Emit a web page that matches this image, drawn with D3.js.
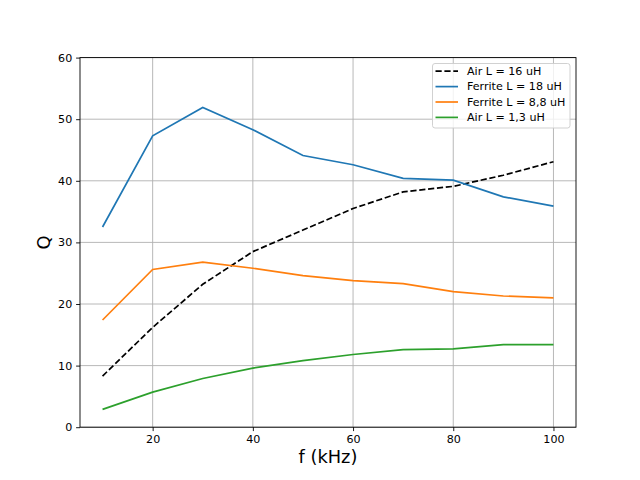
<!DOCTYPE html>
<html>
<head>
<meta charset="utf-8">
<script src="https://cdn.jsdelivr.net/npm/d3@7"></script>
<style>
  body { margin: 0; background: #fff; }
  text { font-family: "DejaVu Sans", sans-serif; }
</style>
</head>
<body>
<svg id="chart" width="640" height="480"></svg>
<script>
// frequencies in kHz
const freqs = [10, 20, 30, 40, 50, 60, 70, 80, 90, 100];

// Q values
const airL16 = [8.3, 16.2, 23.2, 28.5, 32.0, 35.5, 38.2, 39.1, 40.9, 43.1];
const ferriteL18 = [32.5, 47.3, 51.9, 48.3, 44.1, 42.6, 40.4, 40.1, 37.4, 35.9];
const ferriteL88 = [17.4, 25.6, 26.8, 25.8, 24.6, 23.8, 23.3, 22.0, 21.3, 21.0];
const airL13 = [2.9, 5.7, 7.9, 9.6, 10.8, 11.8, 12.6, 12.7, 13.4, 13.4];

const seriesNames = ["Air L = 16 uH", "Ferrite L = 18 uH", "Ferrite L = 8,8 uH", "Air L = 1,3 uH"];
const seriesValues = [airL16, ferriteL18, ferriteL88, airL13];
const seriesColors = ["#000000", "#1f77b4", "#ff7f0e", "#2ca02c"];
const xTicks = [20, 40, 60, 80, 100];
const yTicks = [0, 10, 20, 30, 40, 50, 60];

const svg = d3.select("#chart");
const plotL = 80, plotR = 576, plotT = 57.6, plotB = 427.2;

// matplotlib-style 5% margins on x
const x = d3.scaleLinear().domain([5.5, 104.5]).range([plotL, plotR]);
const y = d3.scaleLinear().domain([0, 60]).range([plotB, plotT]);

// grid
const grid = svg.append("g");
grid.selectAll(".gx").data(xTicks).enter().append("line")
    .attr("x1", d => x(d)).attr("x2", d => x(d))
    .attr("y1", plotT).attr("y2", plotB)
    .attr("stroke", "#b0b0b0").attr("stroke-width", 0.9);
grid.selectAll(".gy").data(yTicks).enter().append("line")
    .attr("x1", plotL).attr("x2", plotR)
    .attr("y1", d => y(d)).attr("y2", d => y(d))
    .attr("stroke", "#b0b0b0").attr("stroke-width", 0.9);

// lines
const line = d3.line()
    .x((d, i) => x(freqs[i]))
    .y(d => y(d));

seriesValues.forEach((vals, k) => {
    svg.append("path")
        .datum(vals)
        .attr("fill", "none")
        .attr("stroke", seriesColors[k])
        .attr("stroke-width", 1.7)
        .attr("stroke-dasharray", k === 0 ? "6.2,2.7" : null)
        .attr("d", line);
});

// axes
const xAxis = svg.append("g")
    .attr("transform", `translate(0,${plotB})`)
    .call(d3.axisBottom(x).tickValues(xTicks).tickSize(3.9).tickPadding(3.9));
const yAxis = svg.append("g")
    .attr("transform", `translate(${plotL},0)`)
    .call(d3.axisLeft(y).tickValues(yTicks).tickSize(3.9).tickPadding(3.9));

[xAxis, yAxis].forEach(a => {
    a.select(".domain").remove();
    a.selectAll("text").attr("font-size", 11.1).attr("font-family", "DejaVu Sans").attr("fill", "#000");
    a.selectAll("line").attr("stroke", "#000").attr("stroke-width", 0.9);
});

// frame
svg.append("rect")
    .attr("x", plotL).attr("y", plotT)
    .attr("width", plotR - plotL).attr("height", plotB - plotT)
    .attr("fill", "none").attr("stroke", "#000").attr("stroke-width", 0.9);

// axis labels
svg.append("text")
    .attr("x", (plotL + plotR) / 2).attr("y", 463)
    .attr("text-anchor", "middle")
    .attr("font-size", 17.8)
    .text("f (kHz)");

svg.append("text")
    .attr("transform", `translate(50,${(plotT + plotB) / 2}) rotate(-90)`)
    .attr("text-anchor", "middle")
    .attr("font-size", 17.8)
    .text("Q");

// legend
const lg = svg.append("g").attr("transform", "translate(432.5,63.5)");
lg.append("rect")
    .attr("width", 137.5).attr("height", 64.5)
    .attr("rx", 2.5)
    .attr("fill", "#fff").attr("fill-opacity", 0.8)
    .attr("stroke", "#cccccc").attr("stroke-width", 0.9);

seriesNames.forEach((name, k) => {
    const cy = 7.7 + k * 15.4;
    lg.append("line")
        .attr("x1", 3).attr("x2", 25.5)
        .attr("y1", cy).attr("y2", cy)
        .attr("stroke", seriesColors[k])
        .attr("stroke-width", 1.7)
        .attr("stroke-dasharray", k === 0 ? "6.2,2.7" : null);
    lg.append("text")
        .attr("x", 34.5).attr("y", cy)
        .attr("dy", "0.35em")
        .attr("font-size", 11.1)
        .attr("fill", "#000")
        .text(name);
});
</script>
</body>
</html>
